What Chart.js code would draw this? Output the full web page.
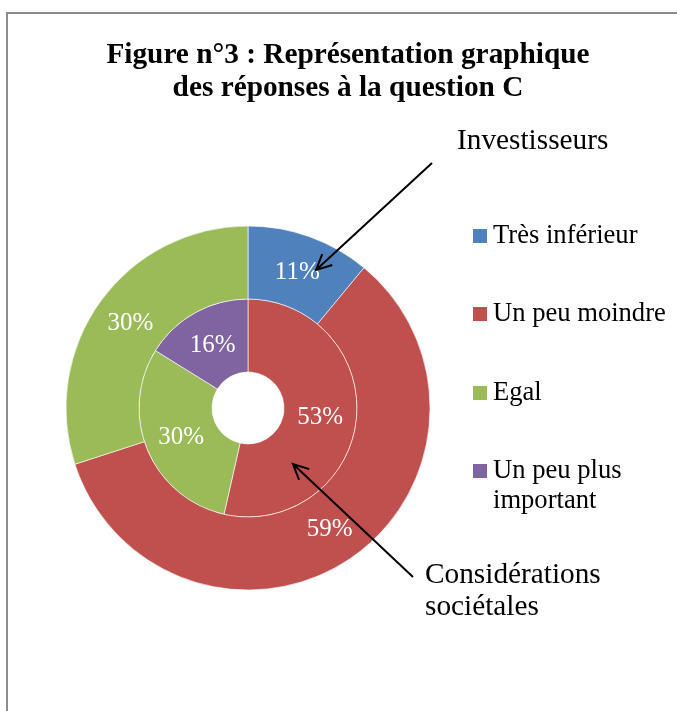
<!DOCTYPE html>
<html>
<head>
<meta charset="utf-8">
<script src="https://cdn.jsdelivr.net/npm/chart.js@4/dist/chart.umd.min.js"></script>
<style>
  html, body { margin: 0; padding: 0; background: #fff; }
  #wrap { position: relative; width: 677px; height: 711px; }
</style>
</head>
<body>
<div id="wrap"><canvas id="pieChart" width="677" height="711"></canvas></div>
<script>
const categories = ["Très inférieur", "Un peu moindre", "Egal", "Un peu plus important"];
const colors = ["#4F81BD", "#C0504D", "#9BBB59", "#8064A2"];
const investisseurs = [11, 59, 30, 0];
const societales = [0, 53, 30, 16];

const SERIF = "'Liberation Serif', 'Times New Roman', serif";

// frame, title, legend and the two callouts
const decorPlugin = {
  id: "decor",
  beforeDraw(chart) {
    const ctx = chart.ctx;
    ctx.save();
    ctx.fillStyle = "#fff";
    ctx.fillRect(0, 0, chart.width, chart.height);
    ctx.strokeStyle = "#8c8c8c";
    ctx.lineWidth = 2;
    ctx.beginPath();
    ctx.moveTo(7, chart.height);
    ctx.lineTo(7, 13);
    ctx.lineTo(chart.width, 13);
    ctx.stroke();
    ctx.restore();
  },
  afterDraw(chart) {
    const ctx = chart.ctx;
    ctx.save();
    ctx.fillStyle = "#000";
    ctx.textAlign = "center";
    ctx.textBaseline = "alphabetic";
    ctx.font = "bold 29.3px " + SERIF;
    ctx.fillText("Figure n°3 : Représentation graphique", 348, 63);
    ctx.fillText("des réponses à la question C", 348, 96);

    // legend
    ctx.textAlign = "left";
    ctx.font = "26.6px " + SERIF;
    const rows = [[243], [321], [400], [478, 508]];
    const lines = [["Très inférieur"], ["Un peu moindre"], ["Egal"], ["Un peu plus", "important"]];
    categories.forEach((c, i) => {
      ctx.fillStyle = colors[i];
      ctx.fillRect(473, rows[i][0] - 14, 14, 14);
      ctx.fillStyle = "#000";
      lines[i].forEach((t, j) => ctx.fillText(t, 493, rows[i][j]));
    });

    // callouts
    ctx.font = "29.3px " + SERIF;
    ctx.fillText("Investisseurs", 457, 149);
    ctx.fillText("Considérations", 425, 583);
    ctx.fillText("sociétales", 425, 615);
    arrow(ctx, 432, 163, 316, 270);
    arrow(ctx, 413, 577, 293, 464);
    ctx.restore();
  }
};

function arrow(ctx, x1, y1, x2, y2) {
  const a = Math.atan2(y2 - y1, x2 - x1);
  const h = 17;
  ctx.strokeStyle = "#000";
  ctx.lineWidth = 2;
  ctx.beginPath();
  ctx.moveTo(x1, y1);
  ctx.lineTo(x2, y2);
  ctx.moveTo(x2 - h * Math.cos(a - 0.45), y2 - h * Math.sin(a - 0.45));
  ctx.lineTo(x2, y2);
  ctx.lineTo(x2 - h * Math.cos(a + 0.45), y2 - h * Math.sin(a + 0.45));
  ctx.stroke();
}

// percentage labels inside each slice
const labelPlugin = {
  id: "sliceLabels",
  afterDatasetsDraw(chart) {
    const ctx = chart.ctx;
    ctx.save();
    ctx.fillStyle = "#fff";
    ctx.font = "25px " + SERIF;
    ctx.textAlign = "center";
    ctx.textBaseline = "middle";
    chart.data.datasets.forEach((ds, di) => {
      chart.getDatasetMeta(di).data.forEach((arc, i) => {
        const v = ds.data[i];
        if (!v) return;
        const p = arc.tooltipPosition();
        ctx.fillText(v + "%", p.x, p.y + 1);
      });
    });
    ctx.restore();
  }
};

new Chart(document.getElementById("pieChart"), {
  type: "doughnut",
  data: {
    labels: categories,
    datasets: [
      { label: "Investisseurs", data: investisseurs, backgroundColor: colors, borderColor: "rgba(255,255,255,0.6)", borderWidth: 1 },
      { label: "Considérations sociétales", data: societales, backgroundColor: colors, borderColor: "rgba(255,255,255,0.6)", borderWidth: 1 }
    ]
  },
  options: {
    responsive: false,
    animation: false,
    cutout: 36,
    layout: { padding: { left: 65.5, top: 225.5, right: 246.5, bottom: 120.5 } },
    plugins: {
      legend: { display: false },
      tooltip: { enabled: false }
    }
  },
  plugins: [decorPlugin, labelPlugin]
});
</script>
</body>
</html>
